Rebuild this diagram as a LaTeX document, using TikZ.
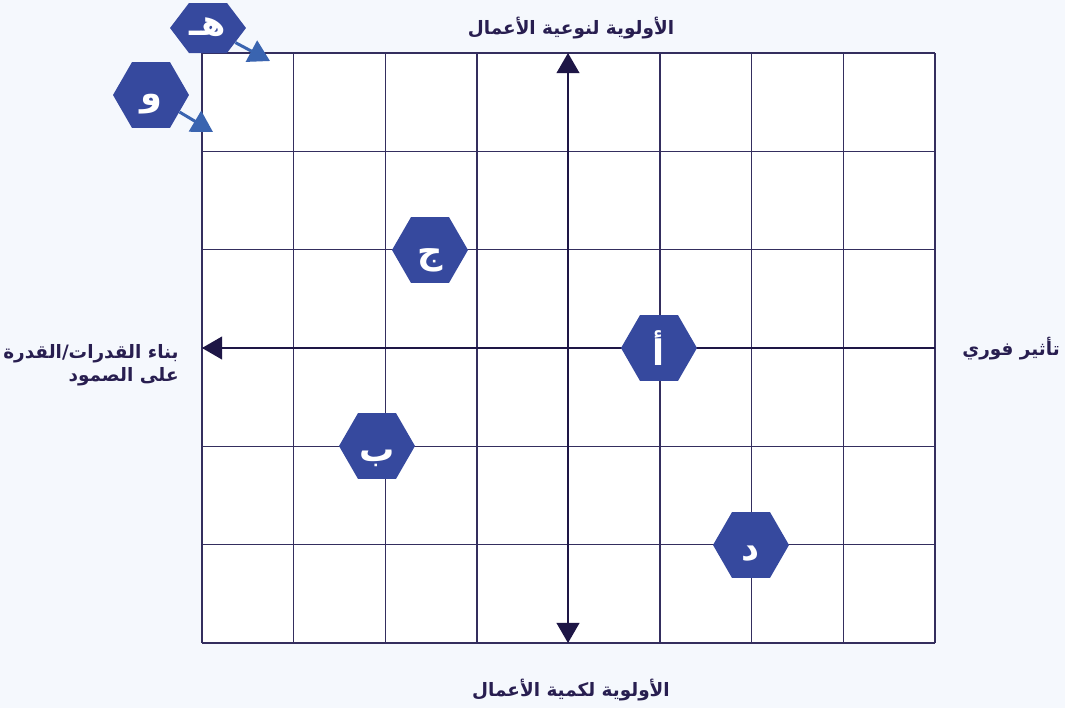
\documentclass[tikz,border=0pt]{standalone}
\usepackage{fontspec}
\newfontfamily\arabicfont[Script=Arabic]{DejaVu Sans}
\TeXXeTstate=1
\usetikzlibrary{shapes.geometric,arrows.meta}

\definecolor{bgcol}{RGB}{245,248,253}
\definecolor{gridink}{RGB}{52,46,94}
\definecolor{axisink}{RGB}{30,22,70}
\definecolor{hexblue}{RGB}{54,73,158}
\definecolor{ptrblue}{RGB}{58,100,176}
\definecolor{labelink}{RGB}{40,30,80}

\tikzset{
  gridline/.style={gridink, line width=0.8pt},
  axisline/.style={axisink, line width=1.1pt},
  axislabel/.style={text=labelink, inner sep=0pt,
    font=\arabicfont\bfseries\fontsize{10.5}{13}\selectfont},
  hexmark/.style={regular polygon, regular polygon sides=6,
    minimum size=1.52cm, inner sep=0pt, fill=hexblue, text=white,
    text height=18pt, text depth=0pt,
    font=\arabicfont\bfseries\fontsize{20}{20}\selectfont},
  pointer/.style={ptrblue, line width=1.7pt,
    -{Triangle[length=12pt,width=13.5pt]}},
}

\begin{document}
\begin{tikzpicture}[x=0.02cm, y=-0.02cm, >={Triangle[length=11.5pt,width=13pt]}]
    % 背景
    \fill[bgcol] (0,0) rectangle (1065,708);
    \useasboundingbox (0,0) rectangle (1065,708);

    % 格子（白地と線）
    \fill[white] (202,53) rectangle (935,643);
    \foreach \i in {0,...,8} {
        \draw[gridline] ({202+91.625*\i},53) -- ({202+91.625*\i},643);
    }
    \foreach \j in {0,...,6} {
        \draw[gridline] (202,{53+98.333*\j}) -- (935,{53+98.333*\j});
    }

    % 軸の端点
    \coordinate (axTop) at (568,53);
    \coordinate (axBottom) at (568,643);
    \coordinate (axRight) at (935,348);
    \coordinate (axLeft) at (202,348);

    % 軸の描画
    \draw[axisline, <->] (axBottom) -- (axTop);
    \draw[axisline, ->] (axRight) -- (axLeft);

    % 軸ラベル
    \node[axislabel] (lblTop) at (571,28) {\beginR الأولوية لنوعية الأعمال\endR};
    \node[axislabel] (lblBottom) at (571,690) {\beginR الأولوية لكمية الأعمال\endR};
    \node[axislabel, anchor=west] (lblRight) at (962,349) {\beginR تأثير فوري\endR};
    \node[axislabel, anchor=east, align=right] (lblLeft) at (179,365)
        {\beginR بناء القدرات/القدرة\endR\\\beginR على الصمود\endR};

    % 六角形の印
    \node[hexmark, text height=19.5pt] (hexA) at (659,348) {\beginR أ\endR};
    \node[hexmark] (hexB) at (377,446) {\beginR ب\endR};
    \node[hexmark, text height=15pt] (hexC) at (430,250) {\beginR ج\endR};
    \node[hexmark] (hexD) at (751,545) {\beginR د\endR};
    \node[hexmark, text height=12pt] (hexF) at (151,95) {\beginR و\endR};

    % 上の印だけ縦につぶす
    \begin{scope}[shift={(208,28)}]
        \node[hexmark, text height=10.5pt, yscale=0.76, transform shape] (hexE) at (0,0)
            {\scalebox{1}[1.316]{\beginR هـ\endR}};
    \end{scope}

    % 枠外を指す矢印
    \coordinate (tipE) at (270,61);
    \coordinate (tipF) at (213,132);
    \draw[pointer] (hexE) -- (tipE);
    \draw[pointer] (hexF) -- (tipF);
\end{tikzpicture}
\end{document}
